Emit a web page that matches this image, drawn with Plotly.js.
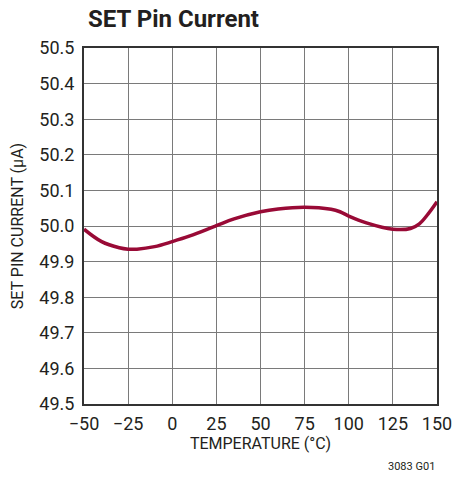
<!DOCTYPE html>
<html>
<head>
<meta charset="utf-8">
<script src="https://cdn.plot.ly/plotly-3.0.1.min.js"></script>
<style>html,body{margin:0;padding:0;background:#fff;}#chart{width:453px;height:489px;}</style>
</head>
<body>
<div id="chart"></div>
<script>
var temperature = [-50, -40, -30, -25, -20, -10, 0, 10, 25, 35, 50, 60, 75, 90, 95, 100, 110, 125, 135, 140, 145, 150];
var setPinCurrent = [49.991, 49.956, 49.939, 49.935, 49.935, 49.942, 49.956, 49.972, 50.001, 50.02, 50.04, 50.048, 50.053, 50.047, 50.04, 50.028, 50.009, 49.991, 49.993, 50.006, 50.034, 50.068];
var xTicks = [-50, -25, 0, 25, 50, 75, 100, 125, 150];
var xTickLabels = ['\u221250', '\u221225', '0', '25', '50', '75', '100', '125', '150'];
var yTicks = [49.5, 49.6, 49.7, 49.8, 49.9, 50.0, 50.1, 50.2, 50.3, 50.4, 50.5];
var yTickLabels = ['49.5', '49.6', '49.7', '49.8', '49.9', '50.0', '50.1', '50.2', '50.3', '50.4', '50.5'];

var font = 'Roboto, Liberation Sans Narrow, sans-serif';
var trace = {
  x: temperature, y: setPinCurrent, type: 'scatter', mode: 'lines',
  line: {color: '#990a36', width: 3.5, shape: 'spline', smoothing: 1},
  hoverinfo: 'none'
};
var layout = {
  width: 453, height: 489,
  margin: {l: 84, r: 16, t: 48, b: 85},
  paper_bgcolor: '#fff', plot_bgcolor: '#fff',
  showlegend: false,
  title: {text: '<b>SET Pin Current</b>', x: 88/453, xanchor: 'left', y: 1 - 19/489, yanchor: 'middle',
          font: {family: font, size: 24, color: '#231f20'}},
  xaxis: {
    range: [-50, 150], tickmode: 'array', tickvals: xTicks, ticktext: xTickLabels,
    showgrid: true, gridcolor: '#7a7a7a', gridwidth: 1,
    showline: true, linecolor: '#333', linewidth: 2, mirror: true,
    ticks: '', zeroline: false, ticklabelstandoff: 2,
    tickfont: {family: font, size: 18, color: '#231f20'},
    title: {text: 'TEMPERATURE (\u00B0C)', font: {family: font, size: 16, color: '#231f20'}, standoff: 3}
  },
  yaxis: {
    range: [49.5, 50.5], tickmode: 'array', tickvals: yTicks, ticktext: yTickLabels,
    showgrid: true, gridcolor: '#7a7a7a', gridwidth: 1,
    showline: true, linecolor: '#333', linewidth: 2, mirror: true,
    ticks: '', zeroline: false, ticklabelstandoff: 4,
    tickfont: {family: font, size: 18, color: '#231f20'},
    title: {text: 'SET PIN CURRENT (\u03BCA)', font: {family: font, size: 16, color: '#231f20'}, standoff: 12}
  },
  annotations: [{
    text: '3083 G01', xref: 'paper', yref: 'paper', x: 1, y: 0, showarrow: false,
    xanchor: 'right', yanchor: 'middle', yshift: -62,
    font: {family: font, size: 11, color: '#231f20'}
  }]
};
Plotly.newPlot('chart', [trace], layout, {staticPlot: true});
</script>
</body>
</html>
